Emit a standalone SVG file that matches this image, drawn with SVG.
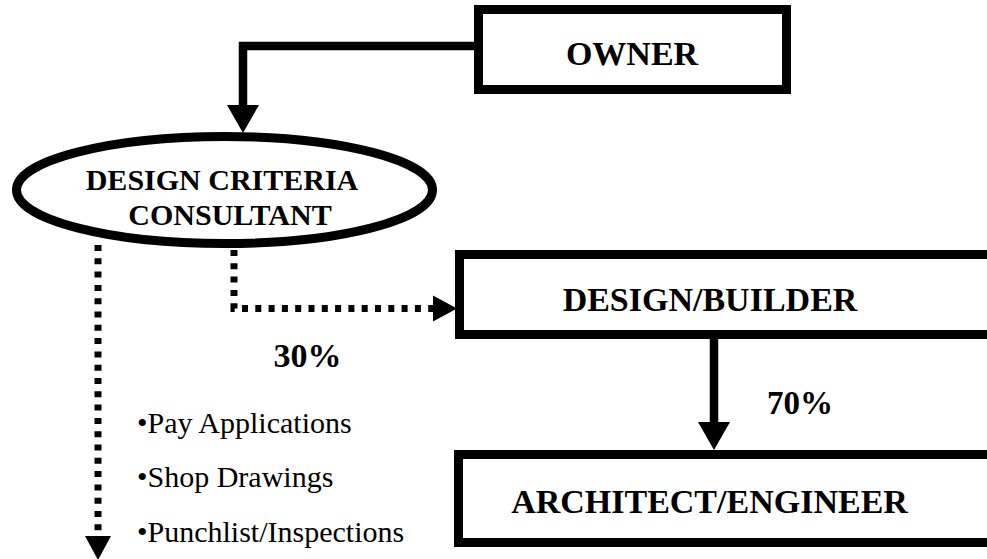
<svg xmlns="http://www.w3.org/2000/svg" width="987" height="559" viewBox="0 0 987 559">
  <style>
    .box { fill: #ffffff; stroke: #000000; stroke-width: 9; }
    .solid { fill: none; stroke: #000000; stroke-width: 8.5; }
    .dotted { fill: none; stroke: #000000; stroke-width: 7; stroke-dasharray: 6 7.3; }
    .lbl { font-family: "Liberation Serif", "Times New Roman", serif; font-weight: bold; fill: #000000; text-anchor: middle; }
    .item { font-family: "Liberation Serif", "Times New Roman", serif; font-size: 30px; fill: #000000; }
  </style>
  <defs>
    <marker id="bigArrow" markerUnits="userSpaceOnUse" markerWidth="28" markerHeight="32" refX="0" refY="16" orient="auto" overflow="visible">
      <path d="M0,0 L28,16 L0,32 z" fill="#000000"/>
    </marker>
    <marker id="smallArrow" markerUnits="userSpaceOnUse" markerWidth="24" markerHeight="26" refX="0" refY="13" orient="auto" overflow="visible">
      <path d="M0,0 L24,13 L0,26 z" fill="#000000"/>
    </marker>
  </defs>
  <rect x="0" y="0" width="987" height="559" fill="#ffffff"/>

  <g id="connectors">
    <path class="solid" d="M474,46 H243 V105" marker-end="url(#bigArrow)"/>
    <path class="solid" d="M714,339 V422" marker-end="url(#bigArrow)"/>
    <path class="dotted" d="M98,245 V536" marker-end="url(#smallArrow)"/>
    <path class="dotted" d="M234,250 V308.5 H433" marker-end="url(#smallArrow)"/>
  </g>

  <g id="owner">
    <rect class="box" x="478.5" y="9.5" width="308" height="80"/>
    <text class="lbl" x="632" y="65" font-size="34">OWNER</text>
  </g>

  <g id="dcc">
    <ellipse cx="224.5" cy="190" rx="208" ry="53.5" fill="#ffffff" stroke="#000000" stroke-width="9"/>
    <text class="lbl" x="222" y="190" font-size="30">DESIGN CRITERIA</text>
    <text class="lbl" x="230" y="225" font-size="30">CONSULTANT</text>
  </g>

  <g id="designbuilder">
    <rect class="box" x="459.5" y="254.5" width="560" height="80"/>
    <text class="lbl" x="710" y="311" font-size="34">DESIGN/BUILDER</text>
  </g>

  <g id="architect">
    <rect class="box" x="458.5" y="454.5" width="560" height="88"/>
    <text class="lbl" x="709.5" y="513" font-size="34">ARCHITECT/ENGINEER</text>
  </g>

  <g id="labels">
    <text class="lbl" x="307.5" y="367" font-size="34">30%</text>
    <text class="lbl" x="800" y="414" font-size="33">70%</text>
    <text class="item" x="137" y="433">•Pay Applications</text>
    <text class="item" x="137" y="487">•Shop Drawings</text>
    <text class="item" x="137" y="542">•Punchlist/Inspections</text>
  </g>
</svg>
